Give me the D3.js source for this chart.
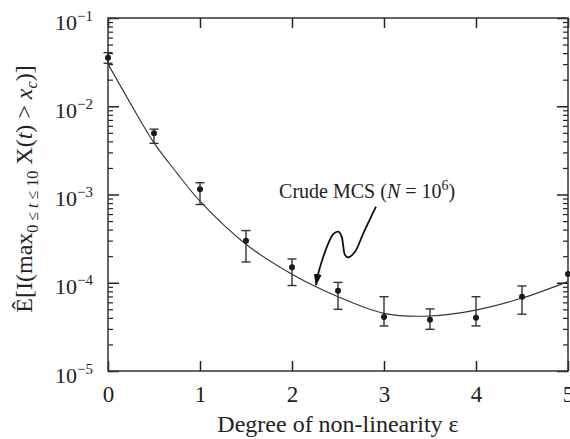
<!DOCTYPE html>
<html>
<head>
<meta charset="utf-8">
<script src="https://cdn.jsdelivr.net/npm/d3@7"></script>
<style>
body { margin: 0; background: #fff; }
svg, svg text { font-family: "Liberation Serif", "Times New Roman", serif; fill: #222; }
</style>
</head>
<body>
<svg id="chart" width="570" height="439"></svg>
<script>
// values
var eps = [0, 0.5, 1, 1.5, 2, 2.5, 3, 3.5, 4, 4.5, 5];
var mcsMean = [3.55e-2, 4.93e-3, 1.15e-3, 3.0e-4, 1.5e-4, 8.1e-5, 4.1e-5, 3.8e-5, 4.0e-5, 6.95e-5, 1.26e-4];
var mcsLow = [3.07e-2, 3.8e-3, 7.7e-4, 1.72e-4, 9.3e-5, 5.0e-5, 3.24e-5, 2.97e-5, 3.24e-5, 4.4e-5, null];
var mcsHigh = [4.05e-2, 5.5e-3, 1.36e-3, 3.9e-4, 1.86e-4, 1.01e-4, 6.95e-5, 5.05e-5, 6.95e-5, 9.2e-5, null];

// smooth reference curve
var curveEps = [0, 0.25, 0.5, 0.75, 1, 1.5, 2, 2.5, 3, 3.5, 4, 4.5, 5];
var curveVal = [3.02e-2, 1.05e-2, 3.84e-3, 1.75e-3, 8.4e-4, 2.73e-4, 1.25e-4, 6.95e-5, 4.5e-5, 4.2e-5, 4.9e-5, 6.7e-5, 1.03e-4];

var xTicks = [0, 1, 2, 3, 4, 5];
var yTicks = [1e-5, 1e-4, 1e-3, 1e-2, 1e-1];
var yTickExp = ["\u22125", "\u22124", "\u22123", "\u22122", "\u22121"];

// squiggly annotation arrow (eps, log10 value)
var arrowEps = [2.913, 2.775, 2.685, 2.612, 2.576, 2.558, 2.540, 2.503, 2.449, 2.395, 2.340, 2.286, 2.261];
var arrowLog = [-3.138, -3.440, -3.648, -3.712, -3.686, -3.592, -3.478, -3.422, -3.448, -3.553, -3.705, -3.893, -4.026];

var svg = d3.select("#chart");
var x = d3.scaleLinear().domain([0, 5]).range([108, 568]);
var y = d3.scaleLog().domain([1e-5, 1e-1]).range([371, 18]);

var minor = [];
yTicks.slice(0, -1).forEach(function (d) {
    for (var k = 2; k < 10; k++) minor.push(d * k);
});

function clean(g) {
    g.select(".domain").remove();
    g.attr("color", "#222").attr("font-family", null);
}

// bottom / top
var gb = svg.append("g").attr("transform", "translate(0,371)")
    .call(d3.axisBottom(x).tickValues(xTicks).tickSize(-10).tickPadding(15).tickFormat(d3.format("d")))
    .call(clean);
gb.selectAll("text").attr("font-size", 23);
gb.selectAll("line").attr("stroke-width", 1.5);

svg.append("g").attr("transform", "translate(0,18)")
    .call(d3.axisTop(x).tickValues(xTicks).tickSize(-10).tickFormat(""))
    .call(clean)
    .selectAll("line").attr("stroke-width", 1.5);

// left / right, major and minor
var gl = svg.append("g").attr("transform", "translate(108,0)")
    .call(d3.axisLeft(y).tickValues(yTicks).tickSize(-11).tickPadding(15).tickFormat(""))
    .call(clean);
gl.selectAll("line").attr("stroke-width", 1.5);
gl.selectAll(".tick text").each(function (d, i) {
    var t = d3.select(this).attr("font-size", 22).attr("dy", "0.5em");
    t.append("tspan").text("10");
    t.append("tspan").attr("font-size", 15).attr("dy", -9).text(yTickExp[i]);
});

svg.append("g").attr("transform", "translate(108,0)")
    .call(d3.axisLeft(y).tickValues(minor).tickSize(-5).tickFormat(""))
    .call(clean)
    .selectAll("line").attr("stroke-width", 1.2);

svg.append("g").attr("transform", "translate(568,0)")
    .call(d3.axisRight(y).tickValues(yTicks).tickSize(-11).tickFormat(""))
    .call(clean)
    .selectAll("line").attr("stroke-width", 1.5);

svg.append("g").attr("transform", "translate(568,0)")
    .call(d3.axisRight(y).tickValues(minor).tickSize(-5).tickFormat(""))
    .call(clean)
    .selectAll("line").attr("stroke-width", 1.2);

// frame
svg.append("rect")
    .attr("x", x(0)).attr("y", y(1e-1))
    .attr("width", x(5) - x(0)).attr("height", y(1e-5) - y(1e-1))
    .attr("fill", "none").attr("stroke", "#333").attr("stroke-width", 1.5);

// fitted curve
var line = d3.line()
    .x(function (d, i) { return x(curveEps[i]); })
    .y(function (d) { return y(d); })
    .curve(d3.curveCatmullRom.alpha(0.5));
svg.append("path").datum(curveVal)
    .attr("d", line)
    .attr("fill", "none").attr("stroke", "#333").attr("stroke-width", 1.1);

// error bars
var bars = eps.map(function (e, i) { return {e: e, lo: mcsLow[i], hi: mcsHigh[i], m: mcsMean[i]}; });
var eb = svg.append("g").attr("stroke", "#333").attr("stroke-width", 1.4).attr("fill", "none");
bars.filter(function (d) { return d.lo != null; }).forEach(function (d) {
    var cx = x(d.e);
    eb.append("line").attr("x1", cx).attr("x2", cx).attr("y1", y(d.lo)).attr("y2", y(d.hi));
    eb.append("line").attr("x1", cx - 4.5).attr("x2", cx + 4.5).attr("y1", y(d.lo)).attr("y2", y(d.lo));
    eb.append("line").attr("x1", cx - 4.5).attr("x2", cx + 4.5).attr("y1", y(d.hi)).attr("y2", y(d.hi));
});

svg.append("g").selectAll("circle").data(bars).enter()
    .append("circle")
    .attr("cx", function (d) { return x(d.e); })
    .attr("cy", function (d) { return y(d.m); })
    .attr("r", 3)
    .attr("fill", "#1a1a1a");

// annotation
svg.append("defs").append("marker")
    .attr("id", "head")
    .attr("viewBox", "0 0 12 8")
    .attr("refX", 11).attr("refY", 4)
    .attr("markerWidth", 12).attr("markerHeight", 8)
    .attr("markerUnits", "userSpaceOnUse")
    .attr("orient", "auto")
    .append("path").attr("d", "M0,0 L12,4 L0,8 Z").attr("fill", "#111");

var arrowLine = d3.line()
    .x(function (d, i) { return x(arrowEps[i]); })
    .y(function (d) { return y(Math.pow(10, d)); })
    .curve(d3.curveCatmullRom.alpha(0.5));
svg.append("path").datum(arrowLog)
    .attr("d", arrowLine)
    .attr("fill", "none").attr("stroke", "#111").attr("stroke-width", 1.8)
    .attr("marker-end", "url(#head)");

var ann = svg.append("text")
    .attr("x", x(1.86)).attr("y", 198)
    .attr("font-size", 20);
ann.append("tspan").text("Crude MCS (");
ann.append("tspan").attr("font-style", "italic").text("N");
ann.append("tspan").attr("dx", 5).text("=");
ann.append("tspan").attr("dx", 5).text("10");
ann.append("tspan").attr("font-size", 14).attr("dy", -8).text("6");
ann.append("tspan").attr("dy", 8).text(")");

// axis titles
svg.append("text")
    .attr("x", x(2.5)).attr("y", 432)
    .attr("text-anchor", "middle").attr("font-size", 24)
    .text("Degree of non-linearity \u03b5");

var yt = svg.append("text")
    .attr("transform", "translate(32,189) rotate(-90)")
    .attr("text-anchor", "middle").attr("font-size", 24);
yt.append("tspan").text("\u00ca[I(max");
yt.append("tspan").attr("font-size", 16).attr("dy", 6).text("0 \u2264 ");
yt.append("tspan").attr("font-size", 16).attr("font-style", "italic").text("t");
yt.append("tspan").attr("font-size", 16).text(" \u2264 10");
yt.append("tspan").attr("dy", -6).text(" X(");
yt.append("tspan").attr("font-style", "italic").text("t");
yt.append("tspan").text(") > ");
yt.append("tspan").attr("font-style", "italic").text("x");
yt.append("tspan").attr("font-size", 16).attr("font-style", "italic").attr("dy", 5).text("c");
yt.append("tspan").attr("dy", -5).text(")]");
</script>
</body>
</html>
